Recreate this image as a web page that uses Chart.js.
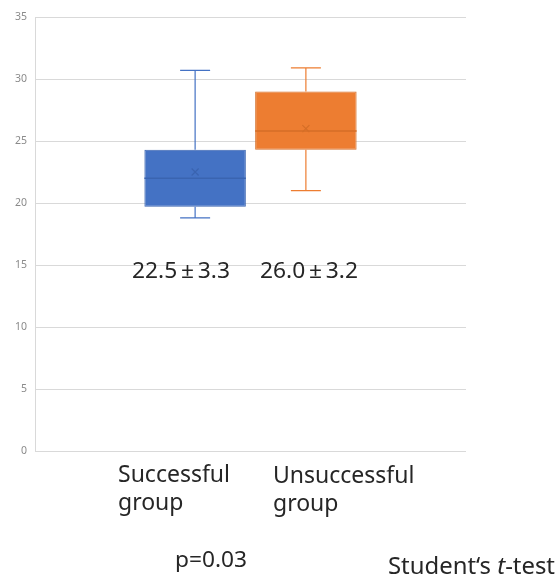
<!DOCTYPE html>
<html>
<head>
<meta charset="utf-8">
<title>Box plot</title>
<script src="https://cdn.jsdelivr.net/npm/chart.js@4/dist/chart.umd.min.js"></script>
<style>
  html, body { margin: 0; padding: 0; background: #ffffff; }
  #wrap { width: 558px; height: 581px; }
</style>
</head>
<body>
<div id="wrap"><canvas id="chart" width="558" height="581"></canvas></div>
<script>
// Group names (two lines each, drawn under the boxes)
const groupNames = [["Successful", "group"], ["Unsuccessful", "group"]];
// Five-number summaries per group
const whiskerLow  = [18.8, 21.0];
const quartile1   = [19.7, 24.3];
const medians     = [22.0, 25.8];
const quartile3   = [24.3, 29.0];
const whiskerHigh = [30.7, 30.9];
// Mean and standard deviation per group
const means = [22.5, 26.0];
const sds   = [3.3, 3.2];
// Y axis ticks
const yTicks = [0, 5, 10, 15, 20, 25, 30, 35];
const pValueText = "p=0.03";

const fills  = ["#4472C4", "#ED7D31"];
const lines  = ["#3A64B0", "#D56E27"];

const datasets = groupNames.map((g, i) => ({
  label: g.join(" "),
  data: [[quartile1[i], quartile3[i]]],
  backgroundColor: fills[i],
  borderColor: lines[i],
  borderWidth: 1,
  borderSkipped: false,
  categoryPercentage: 0.514,
  barPercentage: 0.916
}));

// Whiskers, caps, median lines and mean markers, placed through the y scale
const boxDetails = {
  id: "boxDetails",
  afterDatasetsDraw(chart) {
    const ctx = chart.ctx;
    const y = chart.scales.y;
    chart.data.datasets.forEach((ds, i) => {
      const bar = chart.getDatasetMeta(i).data[0];
      const cx = bar.x;
      const half = bar.width / 2;
      const yQ1 = y.getPixelForValue(quartile1[i]);
      const yQ3 = y.getPixelForValue(quartile3[i]);
      const yLo = y.getPixelForValue(whiskerLow[i]);
      const yHi = y.getPixelForValue(whiskerHigh[i]);
      const yMed = y.getPixelForValue(medians[i]);
      const yMean = y.getPixelForValue(means[i]);
      const capHalf = 15;
      ctx.save();
      ctx.strokeStyle = fills[i];
      ctx.lineWidth = 1.2;
      ctx.beginPath();
      ctx.moveTo(cx, yQ3); ctx.lineTo(cx, yHi);
      ctx.moveTo(cx - capHalf, yHi); ctx.lineTo(cx + capHalf, yHi);
      ctx.moveTo(cx, yQ1); ctx.lineTo(cx, yLo);
      ctx.moveTo(cx - capHalf, yLo); ctx.lineTo(cx + capHalf, yLo);
      ctx.stroke();
      // median
      ctx.strokeStyle = lines[i];
      ctx.lineWidth = 1.5;
      ctx.beginPath();
      ctx.moveTo(cx - half, yMed); ctx.lineTo(cx + half, yMed);
      ctx.stroke();
      // mean marker (x)
      const m = 3.5;
      ctx.lineWidth = 1.2;
      ctx.beginPath();
      ctx.moveTo(cx - m, yMean - m); ctx.lineTo(cx + m, yMean + m);
      ctx.moveTo(cx - m, yMean + m); ctx.lineTo(cx + m, yMean - m);
      ctx.stroke();
      ctx.restore();
    });
  }
};

// Draws a run of text pieces, stretched horizontally to a given width
function fitText(ctx, parts, x, baseline, width, size) {
  let total = 0;
  parts.forEach(([txt, style]) => {
    ctx.font = style + size + "px 'Noto Sans'";
    total += ctx.measureText(txt).width;
  });
  ctx.save();
  ctx.translate(x, baseline);
  ctx.scale(width ? width / total : 1, 1);
  let cx = 0;
  parts.forEach(([txt, style]) => {
    ctx.font = style + size + "px 'Noto Sans'";
    ctx.fillText(txt, cx, 0);
    cx += ctx.measureText(txt).width;
  });
  ctx.restore();
}

// Text annotations: mean ± SD, group names, p value, test name
const annotations = {
  id: "annotations",
  afterDraw(chart) {
    const ctx = chart.ctx;
    const area = chart.chartArea;
    ctx.save();
    ctx.fillStyle = "#262626";
    ctx.textBaseline = "alphabetic";
    ctx.textAlign = "left";

    const statX = [area.left + 97, area.left + 225];
    means.forEach((mu, i) => {
      const label = mu.toFixed(1) + "\u2009\u00B1\u2009" + sds[i].toFixed(1);
      fitText(ctx, [[label, ""]], statX[i], 278, 98, 21);
    });

    const nameX = [area.left + 83, area.left + 238];
    groupNames.forEach((g, i) => {
      g.forEach((line, k) => {
        fitText(ctx, [[line, ""]], nameX[i], 482 + k * 28 + i, 0, 23);
      });
    });

    fitText(ctx, [[pValueText, ""]], area.left + 140, 567, 72, 21);

    fitText(ctx, [["Student\u2018s ", ""], ["t", "italic "], ["-test", ""]],
            area.left + 353, 574, 167, 23);
    ctx.restore();
  }
};

new Chart(document.getElementById("chart"), {
  type: "bar",
  data: { labels: [""], datasets },
  options: {
    responsive: false,
    animation: false,
    layout: { padding: { left: 0, top: 17, right: 92, bottom: 130 } },
    plugins: {
      legend: { display: false },
      tooltip: { enabled: false }
    },
    scales: {
      x: { display: false },
      y: {
        min: 0,
        max: 35,
        afterBuildTicks(scale) { scale.ticks = yTicks.map(v => ({ value: v })); },
        afterFit(scale) { scale.width = 35; },
        grid: { color: "#d9d9d9", lineWidth: 1, drawTicks: false },
        border: { color: "#d9d9d9" },
        ticks: {
          padding: 8,
          color: "#8a8a8a",
          font: { family: "'Noto Sans'", size: 10.5 }
        }
      }
    }
  },
  plugins: [boxDetails, annotations]
});
</script>
</body>
</html>
